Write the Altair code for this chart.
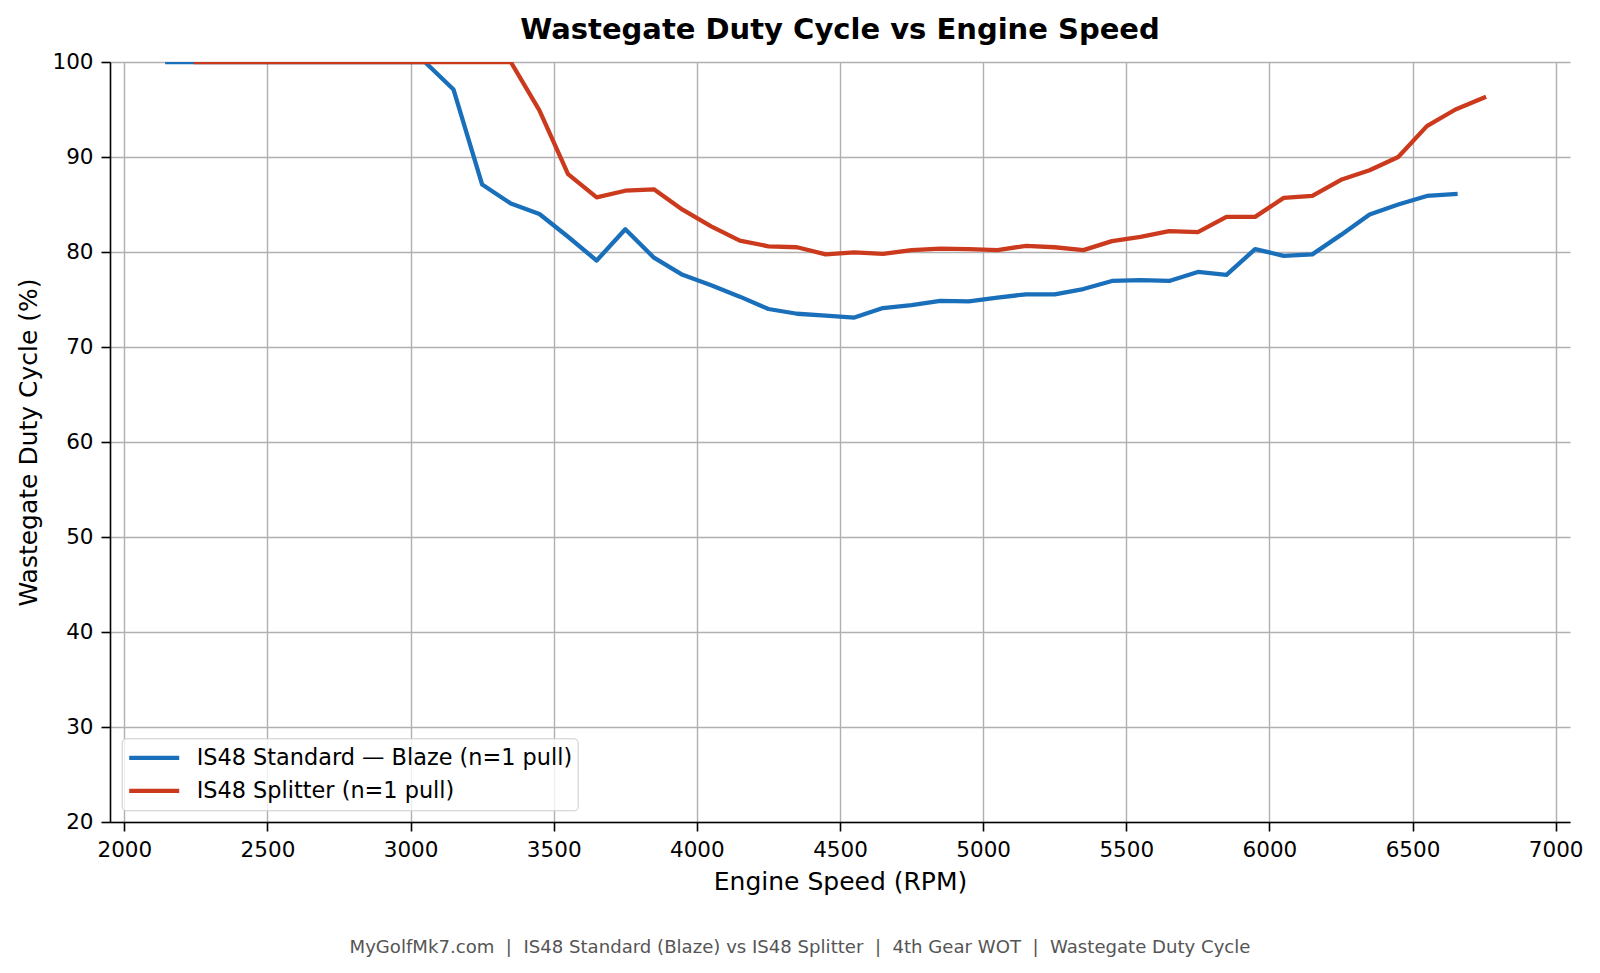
import altair as alt
import pandas as pd

# ---- data ----
rpm_standard = [2150, 2250, 2350, 2450, 2550, 2650, 2750, 2850, 2950, 3050,
                3150, 3250, 3350, 3450, 3550, 3650, 3750, 3850, 3950, 4050,
                4150, 4250, 4350, 4450, 4550, 4650, 4750, 4850, 4950, 5050,
                5150, 5250, 5350, 5450, 5550, 5650, 5750, 5850, 5950, 6050,
                6150, 6250, 6350, 6450, 6550, 6650]
wgdc_standard = [100, 100, 100, 100, 100, 100, 100, 100, 100, 100,
                 97.1, 87.1, 85.1, 84.0, 81.6, 79.1, 82.4, 79.4, 77.6, 76.5,
                 75.3, 74.0, 73.5, 73.3, 73.1, 74.1, 74.4, 74.85, 74.8, 75.2,
                 75.55, 75.55, 76.1, 76.95, 77.05, 76.95, 77.9, 77.6, 80.3, 79.6,
                 79.75, 81.8, 83.95, 85.0, 85.9, 86.1]

rpm_splitter = [2250, 2350, 2450, 2550, 2650, 2750, 2850, 2950, 3050, 3150,
                3250, 3350, 3450, 3550, 3650, 3750, 3850, 3950, 4050, 4150,
                4250, 4350, 4450, 4550, 4650, 4750, 4850, 4950, 5050, 5150,
                5250, 5350, 5450, 5550, 5650, 5750, 5850, 5950, 6050, 6150,
                6250, 6350, 6450, 6550, 6650, 6750]
wgdc_splitter = [100, 100, 100, 100, 100, 100, 100, 100, 100, 100,
                 100, 100, 94.9, 88.2, 85.75, 86.45, 86.6, 84.45, 82.7, 81.2,
                 80.6, 80.5, 79.75, 79.95, 79.8, 80.2, 80.35, 80.3, 80.2, 80.65,
                 80.5, 80.2, 81.15, 81.6, 82.2, 82.1, 83.7, 83.7, 85.7, 85.9,
                 87.6, 88.6, 90.0, 93.25, 95.0, 96.25]

series_names = ["IS48 Standard — Blaze (n=1 pull)", "IS48 Splitter (n=1 pull)"]
series_colors = ["#1a6fba", "#cc3a1e"]

x_ticks = [2000, 2500, 3000, 3500, 4000, 4500, 5000, 5500, 6000, 6500, 7000]
y_ticks = [20, 30, 40, 50, 60, 70, 80, 90, 100]

title_text = "Wastegate Duty Cycle vs Engine Speed"
SEP = "\u00a0\u00a0|\u00a0\u00a0"
footer_parts = ["MyGolfMk7.com", "IS48 Standard (Blaze) vs IS48 Splitter",
                "4th Gear WOT", "Wastegate Duty Cycle"]
footer_text = SEP.join(footer_parts)

# ---- tables ----
df = pd.concat([
    pd.DataFrame({"rpm": rpm_standard, "wgdc": wgdc_standard, "series": series_names[0]}),
    pd.DataFrame({"rpm": rpm_splitter, "wgdc": wgdc_splitter, "series": series_names[1]}),
], ignore_index=True)
footer_df = pd.DataFrame({"text": [footer_text]})

FONT = "DejaVu Sans"
W, H = 1460, 760

lines = alt.Chart(df).mark_line(
    strokeWidth=4.3, strokeCap="square", strokeJoin="round", clip=True
).encode(
    x=alt.X("rpm:Q",
            scale=alt.Scale(domain=[1950, 7050], nice=False, zero=False),
            axis=alt.Axis(values=x_ticks, format="d", title="Engine Speed (RPM)",
                          titlePadding=9, labelPadding=8)),
    y=alt.Y("wgdc:Q",
            scale=alt.Scale(domain=[20, 100], nice=False, zero=False),
            axis=alt.Axis(values=y_ticks, format="d", title="Wastegate Duty Cycle (%)",
                          titlePadding=10, labelPadding=8)),
    color=alt.Color("series:N",
                    scale=alt.Scale(domain=series_names, range=series_colors),
                    legend=alt.Legend(
                        title=None, orient="none", legendX=11.7, legendY=676.3,
                        symbolType="stroke", symbolSize=2500, symbolStrokeWidth=4.3,
                        clipHeight=29, rowPadding=4, padding=5, labelOffset=15,
                        labelFontSize=22.4, labelColor="black", labelFont=FONT,
                        labelLimit=0,
                        fillColor="rgba(255,255,255,0.8)", strokeColor="#cccccc",
                        cornerRadius=4)),
    order=alt.Order("rpm:Q"),
)

footer = alt.Chart(footer_df).mark_text(
    fontSize=18.1, color="#555555", font=FONT, align="center", baseline="alphabetic"
).encode(
    x=alt.value(690),
    y=alt.value(891.3),
    text="text:N",
)

chart = alt.layer(lines, footer).properties(
    width=W, height=H,
    title=alt.TitleParams(text=title_text, fontSize=29, fontWeight="bold", font=FONT,
                          color="black", anchor="middle", frame="group",
                          baseline="alphabetic", offset=-17),
    padding={"left": 102, "top": 54, "right": 22, "bottom": 138},
    autosize=alt.AutoSizeParams(type="none"),
).configure(
    font=FONT,
).configure_view(
    stroke="transparent",
).configure_axis(
    grid=True, gridColor="#b0b0b0", gridWidth=1.4,
    domainColor="black", domainWidth=1.6,
    tickColor="black", tickWidth=1.6, tickSize=9,
    labelFontSize=21.5, labelColor="black", labelFont=FONT,
    titleFontSize=25, titleFontWeight="normal", titleColor="black", titleFont=FONT,
)

chart.save("out.html", embed_options={"renderer": "svg", "actions": False})
